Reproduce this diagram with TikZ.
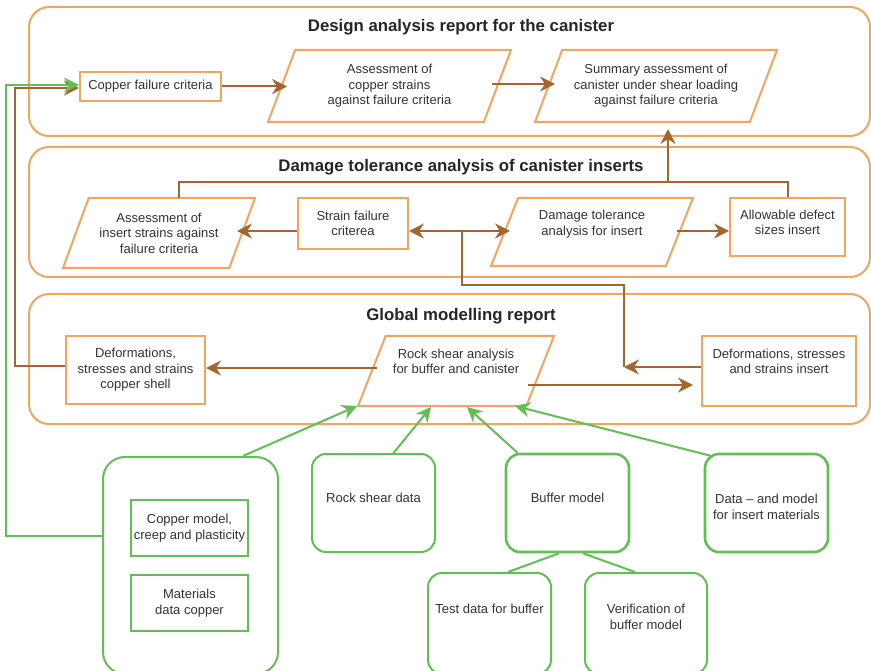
\documentclass[tikz,border=0pt]{standalone}
\usepackage{fontspec}
\setmainfont{Liberation Sans}
\usetikzlibrary{arrows.meta,calc,shapes.geometric}

\definecolor{boxorange}{HTML}{F2A561}
\definecolor{flowbrown}{HTML}{A5652F}
\definecolor{datagreen}{HTML}{63BE55}
\definecolor{textgray}{HTML}{333333}

\tikzset{
  every node/.style={font=\fontsize{13}{15.5}\selectfont, text=textgray, align=center},
  group/.style={draw=boxorange, line width=2pt, rounded corners=20pt, inner sep=0pt},
  title/.style={font=\bfseries\fontsize{16.8}{20}\selectfont, text=black!85},
  box/.style={draw=boxorange, line width=2pt, inner sep=2pt},
  slant/.style={draw=boxorange, line width=2pt, trapezium, trapezium left angle=60,
    trapezium right angle=120, trapezium stretches body, inner sep=2pt},
  data/.style={draw=datagreen, line width=2pt, rounded corners=14pt, inner sep=2pt},
  datain/.style={draw=datagreen, line width=2pt, inner sep=2pt},
  flow/.style={draw=flowbrown, line width=2pt, -{Stealth[length=15pt,width=15pt,inset=5pt]}},
  flowline/.style={draw=flowbrown, line width=2pt},
  feed/.style={draw=datagreen, line width=2pt, -{Stealth[length=15pt,width=15pt,inset=5pt]}},
  link/.style={draw=datagreen, line width=2pt}
}

\begin{document}
\begin{tikzpicture}[x=1pt,y=-1pt]
\useasboundingbox (0,0) rectangle (871,671);
% Report frames
\node [group, minimum width=841, minimum height=129] (design) at (449.5,71.5) {};
\node [group, minimum width=841, minimum height=130] (damage) at (449.5,212) {};
\node [group, minimum width=841, minimum height=130] (global) at (449.5,359) {};
% Frame titles
\node [title] (designtitle) at (461,27) {Design analysis report for the canister};
\node [title] (damagetitle) at (461,167) {Damage tolerance analysis of canister inserts};
\node [title] (globaltitle) at (461,316) {Global modelling report};
%
% Design analysis row
\node [box, minimum width=141, minimum height=29] (cfc) at (150.5,86.5) {Copper failure criteria};
\node [slant, minimum width=243, minimum height=72] (acs) at (389.5,86) {Assessment of\\copper strains\\against failure criteria};
\node [slant, minimum width=242, minimum height=72] (sum) at (656,86) {Summary assessment of\\canister under shear loading\\against failure criteria};
%
% Damage tolerance row
\node [slant, minimum width=192, minimum height=70] (ias) at (159,233) {Assessment of\\insert strains against\\failure criteria};
\node [box, minimum width=110, minimum height=51] (sfc) at (353,223.5) {Strain failure\\criterea};
\node [slant, minimum width=202, minimum height=68, text depth=18pt] (dta) at (592,232) {Damage tolerance\\analysis for insert};
\node [box, minimum width=115, minimum height=58, text depth=9pt] (adi) at (787.5,227) {Allowable defect\\sizes insert};
%
% Global modelling row
\node [box, minimum width=139, minimum height=68] (dcs) at (135.5,370) {Deformations,\\stresses and strains\\copper shell};
\node [slant, minimum width=196, minimum height=70, text depth=19pt] (rsa) at (456,371) {Rock shear analysis\\for buffer and canister};
\node [box, minimum width=154, minimum height=70, text depth=19pt] (dsi) at (779,371) {Deformations, stresses\\and strains insert};
%
% Input data
\node [data, rounded corners=22pt, minimum width=175, minimum height=217] (cg) at (190.5,565.5) {};
\node [datain, minimum width=117, minimum height=56] (cmc) at (189.5,528) {Copper model,\\creep and plasticity};
\node [datain, minimum width=117, minimum height=56] (mdc) at (189.5,603) {Materials\\data copper};
\node [data, minimum width=123, minimum height=98, text depth=10pt] (rsd) at (373.5,503) {Rock shear data};
\node [data, line width=2.6pt, minimum width=123, minimum height=98, text depth=10pt] (bfm) at (567.5,503) {Buffer model};
\node [data, line width=2.6pt, minimum width=123, minimum height=98, text height=33pt] (dim) at (766.5,503) {Data \textendash{} and model\\for insert materials};
\node [data, minimum width=123, minimum height=101, text depth=29pt] (tdb) at (489.5,623.5) {Test data for buffer};
\node [data, minimum width=122, minimum height=101, text depth=13pt] (vbm) at (646,623.5) {Verification of\\buffer model};
%
% Junctions
\coordinate (jn) at (461.5,231);
\coordinate (bus) at (668,182);
\coordinate (turn) at (624,367);
% Ends on the slanted boxes
\coordinate (acs in) at ([xshift=-102.5pt]acs.center);
\coordinate (acs out) at ([shift={(102.5pt,2pt)}]acs.center);
\coordinate (sum in) at ([shift={(-101pt,2pt)}]sum.center);
\coordinate (ias in) at ([xshift=78pt]ias.center);
\coordinate (ias top) at ([shift={(20pt,35pt)}]ias.center);
\coordinate (dta in) at ([xshift=-82pt]dta.center);
\coordinate (dta out) at ([xshift=85pt]dta.center);
\coordinate (rsa left) at ([shift={(-79pt,3pt)}]rsa.center);
\coordinate (rsa right) at ([shift={(72pt,-14pt)}]rsa.center);
%
% Design analysis flow
\draw [flow] (cfc.east) -- (cfc.east -| acs in);
\draw [flow] (acs out) -- (sum in);
% Damage tolerance flow
\draw [flow] (sfc.west |- jn) -- (ias in |- jn);
\draw [flow] (jn) -- (sfc.east |- jn);
\draw [flow] (jn) -- (dta in |- jn);
\draw [flow] (dta out |- jn) -- (adi.west |- jn);
\draw [flowline] (ias top) |- (bus) -| (adi.north);
\draw [flow, shorten >=6pt] (bus) -- (bus |- sum.south);
% Global modelling flow
\draw [flow] (rsa left) -- (rsa left -| dcs.east);
\draw [flow, shorten >=8pt] (rsa right) -- (rsa right -| dsi.west);
\draw [flow] ([yshift=4pt]dsi.west) -- (turn);
\draw [flowline] (turn) -- ++(0,-82) -| (jn);
% Copper shell back to failure criteria
\draw [flow] ([yshift=4pt]dcs.west) -- ++(-50,0) |- ([yshift=-1.5pt]cfc.west);
% Copper data to failure criteria
\draw [feed] ([yshift=29.5pt]cg.west) -- ++(-96,0) |- ([yshift=1.5pt]cfc.west);
%
% Data into rock shear analysis
\draw [feed] ([xshift=52.5pt]cg.north) -- ([shift={(-99pt,-35pt)}]rsa.center);
\draw [feed] ([xshift=20pt]rsd.north) -- ([shift={(-25pt,-36pt)}]rsa.center);
\draw [feed] ([xshift=-50pt]bfm.north) -- ([shift={(11pt,-36pt)}]rsa.center);
\draw [feed] ([xshift=-56pt,yshift=-3pt]dim.north) -- ([shift={(59pt,-35pt)}]rsa.center);
% Buffer model sources
\draw [link] ([xshift=-8.5pt]bfm.south) -- ([xshift=18.5pt]tdb.north);
\draw [link] ([xshift=15.5pt]bfm.south) -- ([xshift=-11pt]vbm.north);
\end{tikzpicture}
\end{document}
